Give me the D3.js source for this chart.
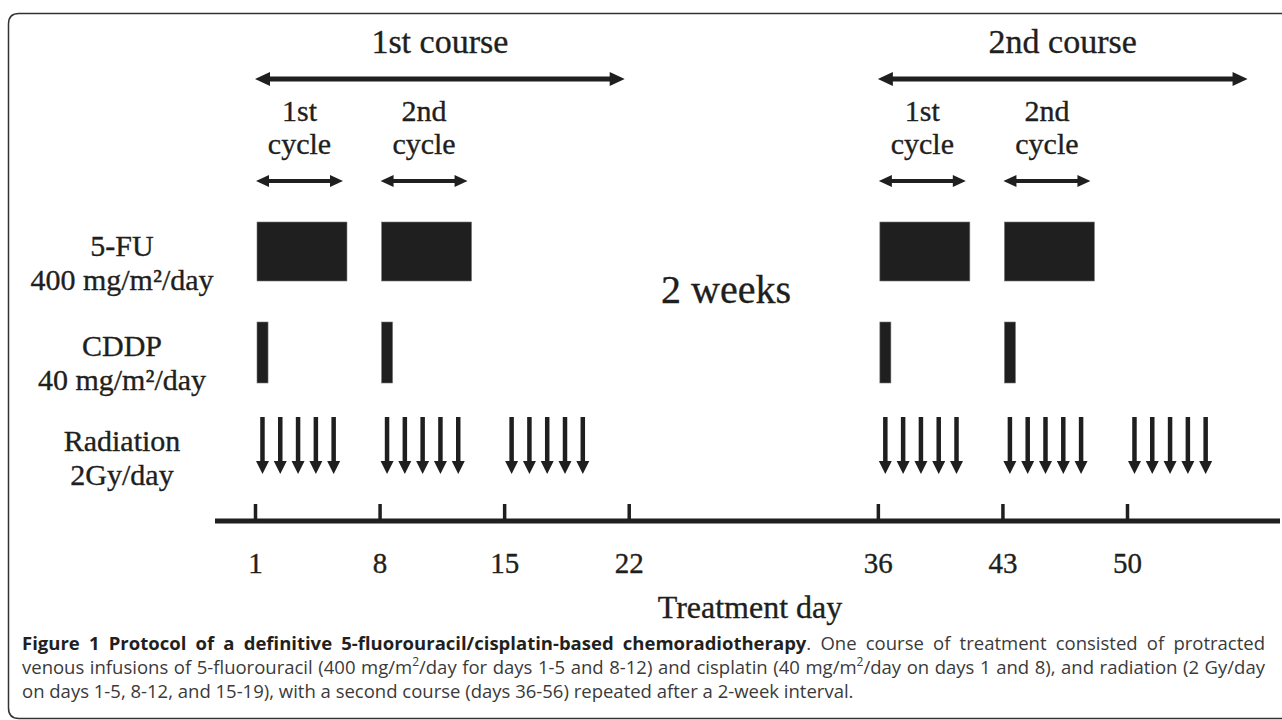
<!DOCTYPE html>
<html lang="en">
<head>
  <meta charset="UTF-8">
  <title>Chemoradiotherapy protocol</title>
  <script src="https://d3js.org/d3.v7.min.js"></script>
  <style>
    body {
      margin: 0;
      padding: 0;
      background: #fff;
    }
    svg text.serif {
      font-family: 'Liberation Serif', 'Times New Roman', serif;
      fill: #1f1f20;
      stroke: #1f1f20;
      stroke-width: 0.35px;
    }
    .caption text {
      font-family: 'Open Sans', sans-serif;
      font-size: 18.5px;
      fill: #3a3a3a;
    }
  </style>
</head>
<body>
  <script>
    // timeline data (treatment days)
    var dayTicks = [1, 8, 15, 22, 36, 43, 50];
    var courseLabels = ["1st course", "2nd course"];
    var courseStarts = [1, 36];
    var courseLength = 21;
    var cycleLabels = [["1st", "cycle"], ["2nd", "cycle"], ["1st", "cycle"], ["2nd", "cycle"]];
    var cycleStarts = [1, 8, 36, 43];
    var cycleLength = 5;
    var fuStarts = [1, 8, 36, 43];
    var fuLength = 5;
    var cddpDays = [1, 8, 36, 43];
    var radiationDays = [1, 2, 3, 4, 5, 8, 9, 10, 11, 12, 15, 16, 17, 18, 19,
                         36, 37, 38, 39, 40, 43, 44, 45, 46, 47, 50, 51, 52, 53, 54];
    var rowNames = ["5-FU", "CDDP", "Radiation"];
    var rowLabels = [["5-FU", "400 mg/m²/day"], ["CDDP", "40 mg/m²/day"], ["Radiation", "2Gy/day"]];
    var gapLabel = "2 weeks";
    var axisTitle = "Treatment day";

    var W = 1282, H = 720;
    var ink = "#1f1f20";

    var svg = d3.select("body").append("svg")
        .attr("width", W)
        .attr("height", H);

    // rounded frame, open on the right
    svg.append("path")
        .attr("d", "M" + W + ",13.5 H19 Q8.5,13.5 8.5,24 V708 Q8.5,718.5 19,718.5 H" + W)
        .attr("fill", "none")
        .attr("stroke", "#333")
        .attr("stroke-width", 1.5);

    var x = d3.scaleLinear().domain([1, 50]).range([255, 1127]);

    // top of each row band
    var rowTop = d3.scaleOrdinal().domain(rowNames).range([222, 322, 417]);
    var rowHeight = d3.scaleOrdinal().domain(rowNames).range([59, 61, 57]);

    function doubleArrow(g, x0, x1, y, shaft, headL, headW) {
      g.append("line")
          .attr("x1", x0 + headL - 1).attr("x2", x1 - headL + 1)
          .attr("y1", y).attr("y2", y)
          .attr("stroke", ink)
          .attr("stroke-width", shaft);
      g.append("path")
          .attr("d", "M" + x0 + "," + y + " L" + (x0 + headL) + "," + (y - headW / 2) +
                     " L" + (x0 + headL) + "," + (y + headW / 2) + "Z")
          .attr("fill", ink);
      g.append("path")
          .attr("d", "M" + x1 + "," + y + " L" + (x1 - headL) + "," + (y - headW / 2) +
                     " L" + (x1 - headL) + "," + (y + headW / 2) + "Z")
          .attr("fill", ink);
    }

    // courses
    var courses = svg.append("g").attr("class", "courses");
    courseStarts.forEach(function(s, i) {
      var x0 = x(s), x1 = x(s + courseLength) - 4;
      doubleArrow(courses, x0, x1, 79, 5, 15, 14);
      courses.append("text")
          .attr("class", "serif")
          .attr("x", (x0 + x1) / 2)
          .attr("y", 53)
          .attr("text-anchor", "middle")
          .style("font-size", "34px")
          .text(courseLabels[i]);
    });

    // cycles
    var cycles = svg.append("g").attr("class", "cycles");
    cycleStarts.forEach(function(s, i) {
      var x0 = x(s) + 1, x1 = x(s + cycleLength) - 1;
      doubleArrow(cycles, x0, x1, 181, 4, 13, 12);
      var t = cycles.append("text")
          .attr("class", "serif")
          .attr("text-anchor", "middle")
          .style("font-size", "30px");
      cycleLabels[i].forEach(function(line, j) {
        t.append("tspan")
            .attr("x", (x0 + x1) / 2)
            .attr("y", 121 + j * 33)
            .text(line);
      });
    });

    // row labels
    var labels = svg.append("g").attr("class", "row-labels");
    rowLabels.forEach(function(lines, i) {
      var t = labels.append("text")
          .attr("class", "serif")
          .attr("text-anchor", "middle")
          .style("font-size", "30px");
      lines.forEach(function(line, j) {
        t.append("tspan")
            .attr("x", 122)
            .attr("y", rowTop(rowNames[i]) + 34 + j * 34)
            .text(line);
      });
    });

    // 5-FU infusion blocks
    svg.append("g").selectAll("rect")
      .data(fuStarts)
      .join("rect")
        .attr("x", function(d) { return x(d) + 2; })
        .attr("width", function(d) { return x(d + fuLength) - x(d) + 1; })
        .attr("y", rowTop("5-FU"))
        .attr("height", rowHeight("5-FU"))
        .attr("fill", ink)
        .attr("stroke", "#777")
        .attr("stroke-width", 0.6);

    // CDDP doses
    svg.append("g").selectAll("rect")
      .data(cddpDays)
      .join("rect")
        .attr("x", function(d) { return x(d) + 2; })
        .attr("width", function(d) { return x(d + 0.62) - x(d); })
        .attr("y", rowTop("CDDP"))
        .attr("height", rowHeight("CDDP"))
        .attr("fill", ink)
        .attr("stroke", "#777")
        .attr("stroke-width", 0.6);

    // radiation fractions
    var rad = svg.append("g").selectAll("g")
      .data(radiationDays)
      .join("g")
        .attr("transform", function(d) { return "translate(" + x(d + 0.42) + "," + rowTop("Radiation") + ")"; });
    rad.append("line")
        .attr("x1", 0).attr("x2", 0)
        .attr("y1", 0).attr("y2", rowHeight("Radiation") - 12)
        .attr("stroke", ink)
        .attr("stroke-width", 4.5);
    rad.append("path")
        .attr("d", function() {
          var h = rowHeight("Radiation");
          return "M-6.5," + (h - 13) + " L6.5," + (h - 13) + " L0," + h + "Z";
        })
        .attr("fill", ink);

    // gap label
    svg.append("text")
        .attr("class", "serif")
        .attr("x", 726)
        .attr("y", 303)
        .attr("text-anchor", "middle")
        .style("font-size", "40px")
        .text(gapLabel);

    // time axis
    var axisY = 521;
    svg.append("line")
        .attr("x1", 215).attr("x2", 1280)
        .attr("y1", axisY).attr("y2", axisY)
        .attr("stroke", ink)
        .attr("stroke-width", 5);

    var axis = svg.append("g")
        .attr("transform", "translate(0," + axisY + ")")
        .call(d3.axisBottom(x)
          .tickValues(dayTicks)
          .tickFormat(d3.format("d"))
          .tickSizeInner(-17)
          .tickSizeOuter(0)
          .tickPadding(31));
    axis.select(".domain").remove();
    axis.selectAll(".tick line")
        .attr("stroke", ink)
        .attr("stroke-width", 3.5);
    axis.selectAll(".tick text")
        .attr("class", "serif")
        .style("font-size", "29px");

    svg.append("text")
        .attr("class", "serif")
        .attr("x", 750)
        .attr("y", 618)
        .attr("text-anchor", "middle")
        .style("font-size", "32px")
        .text(axisTitle);

    // caption, justified by stretching the word spacing
    var cap = svg.append("g").attr("class", "caption");
    var capLeft = 22, capWidth = 1243;

    function justify(t) {
      var spaces = (t.text().match(/ /g) || []).length;
      var extra = capWidth - t.node().getComputedTextLength();
      if (spaces) t.style("word-spacing", (extra / spaces) + "px");
    }

    var l1 = cap.append("text")
        .attr("x", capLeft).attr("y", 650);
    l1.append("tspan")
        .style("font-weight", "bold")
        .attr("fill", "#231f20")
        .text("Figure 1 Protocol of a definitive 5-fluorouracil/cisplatin-based chemoradiotherapy");
    l1.append("tspan").text(". One course of treatment consisted of protracted");
    justify(l1);

    var l2 = cap.append("text")
        .attr("x", capLeft).attr("y", 674);
    l2.append("tspan").text("venous infusions of 5-fluorouracil (400 mg/m");
    l2.append("tspan").attr("dy", -8).style("font-size", "12px").text("2");
    l2.append("tspan").attr("dy", 8).text("/day for days 1-5 and 8-12) and cisplatin (40 mg/m");
    l2.append("tspan").attr("dy", -8).style("font-size", "12px").text("2");
    l2.append("tspan").attr("dy", 8).text("/day on days 1 and 8), and radiation (2 Gy/day");
    justify(l2);

    cap.append("text")
        .attr("x", capLeft).attr("y", 698)
        .text("on days 1-5, 8-12, and 15-19), with a second course (days 36-56) repeated after a 2-week interval.");
  </script>
</body>
</html>
